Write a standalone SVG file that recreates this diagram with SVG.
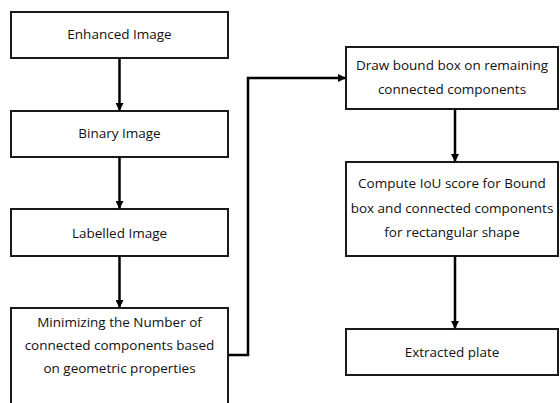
<svg xmlns="http://www.w3.org/2000/svg" width="560" height="403" viewBox="0 0 560 403">
<style>
.box{fill:#fff;stroke:#1a1a1a;stroke-width:2}
.t{font-family:"Open Sans","Liberation Sans",sans-serif;font-size:13.5px;fill:#111;text-anchor:middle}
.c{fill:none;stroke:#000;stroke-width:2.5}
</style>
<defs>
<marker id="ah" markerWidth="8" markerHeight="8" refX="7" refY="4" orient="auto" markerUnits="userSpaceOnUse">
<path d="M0,0 L8,4 L0,8 Z" fill="#000"/>
</marker>
</defs>
<rect width="560" height="403" fill="#fff"/>
<g id="n1"><rect class="box" x="11" y="12" width="217" height="46"/><text class="t" x="119.5" y="39">Enhanced Image</text></g>
<g id="n2"><rect class="box" x="11" y="111" width="217" height="46"/><text class="t" x="119.5" y="138">Binary Image</text></g>
<g id="n3"><rect class="box" x="11" y="209" width="217" height="47"/><text class="t" x="119.5" y="238">Labelled Image</text></g>
<g id="n4"><rect class="box" x="11" y="308" width="217" height="110"/><text class="t" x="119.5" y="327">Minimizing the Number of</text><text class="t" x="119.5" y="350">connected components based</text><text class="t" x="119.5" y="373">on geometric properties</text></g>
<g id="n5"><rect class="box" x="346" y="47" width="212" height="62"/><text class="t" x="452" y="70">Draw bound box on remaining</text><text class="t" x="452" y="94">connected components</text></g>
<g id="n6"><rect class="box" x="346" y="162" width="212" height="94"/><text class="t" x="452" y="188">Compute IoU score for Bound</text><text class="t" x="452" y="213">box and connected components</text><text class="t" x="452" y="237">for rectangular shape</text></g>
<g id="n7"><rect class="box" x="346" y="329" width="212" height="46"/><text class="t" x="452" y="357">Extracted plate</text></g>
<g id="connectors">
<line class="c" x1="119.5" y1="58" x2="119.5" y2="110" marker-end="url(#ah)"/>
<line class="c" x1="119.5" y1="157" x2="119.5" y2="208" marker-end="url(#ah)"/>
<line class="c" x1="119.5" y1="256" x2="119.5" y2="307" marker-end="url(#ah)"/>
<polyline class="c" points="228,355 248,355 248,78 345,78" marker-end="url(#ah)"/>
<line class="c" x1="455" y1="109" x2="455" y2="161" marker-end="url(#ah)"/>
<line class="c" x1="455" y1="256" x2="455" y2="328" marker-end="url(#ah)"/>
</g>
</svg>
